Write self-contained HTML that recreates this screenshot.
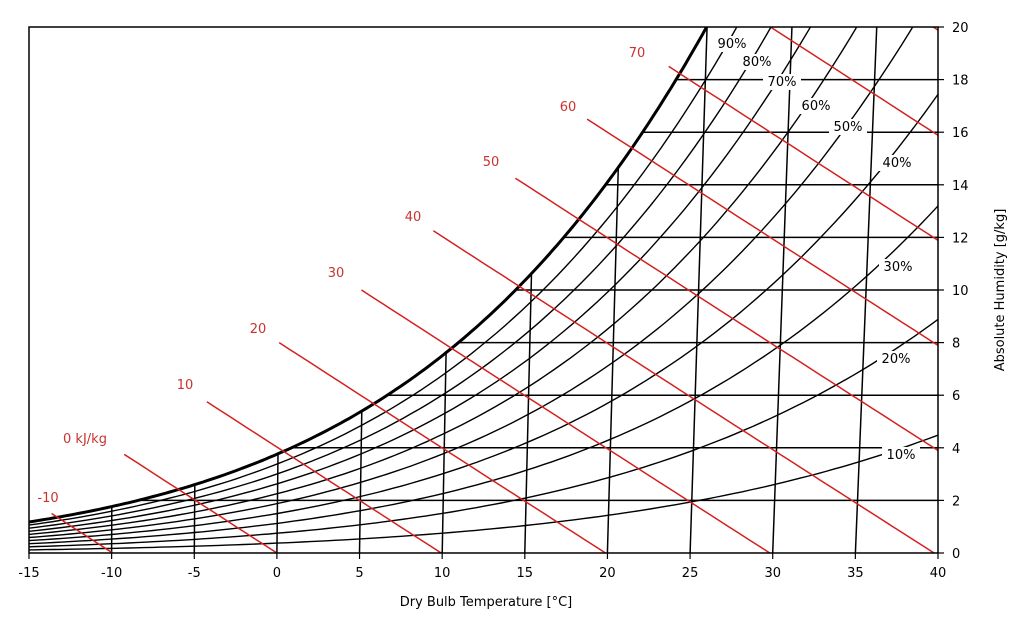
<!DOCTYPE html>
<html><head><meta charset="utf-8"><style>
html,body{margin:0;padding:0;background:#fff;}
svg{display:block;font-family:"DejaVu Sans","Liberation Sans",sans-serif;}
</style></head><body>
<svg id="s" width="1024" height="620" viewBox="0 0 1024 620" xmlns="http://www.w3.org/2000/svg">
<defs><clipPath id="c"><rect x="29" y="27" width="909" height="526"/></clipPath></defs>
<rect width="1024" height="620" fill="#fff"/>
<g id="plot" clip-path="url(#c)"></g>
<g id="lab"></g>
<rect x="29" y="27" width="909" height="526" fill="none" stroke="#000" stroke-width="1.5"/>
<g id="ax" font-size="13" fill="#000"></g>
<text x="486" y="606" font-size="13" text-anchor="middle">Dry Bulb Temperature [°C]</text>
<text transform="translate(1004,290) rotate(-90)" font-size="13" text-anchor="middle">Absolute Humidity [g/kg]</text>
</svg>
<script>
const NS="http://www.w3.org/2000/svg";
const P=101.325;
function X(T){return 29+(T+15)*16.527;}
function Y(w){return 553-w*26.3;}
function px(T,w){return X(T)+w*(0.3+0.022*T);}
function ps(T){return 0.61094*Math.exp(17.625*T/(T+243.04));}
function wr(T,f){const p=f*ps(T);return 622*p/(P-p);}
function el(p,tag,a,txt){const e=document.createElementNS(NS,tag);for(const k in a)e.setAttribute(k,a[k]);if(txt!==undefined)e.textContent=txt;p.appendChild(e);return e;}
const g=document.getElementById('plot'),lab=document.getElementById('lab'),ax=document.getElementById('ax');
function path(pts,st,sw){el(g,'path',{d:'M'+pts.map(p=>p[0].toFixed(1)+','+p[1].toFixed(1)).join('L'),fill:'none',stroke:st,'stroke-width':sw});}
function tsat(w){let lo=-30,hi=60;for(let i=0;i<60;i++){const m=(lo+hi)/2;if(wr(m,1)>w)hi=m;else lo=m;}return lo;}
for(let w=2;w<=18;w+=2){const T=tsat(w);path([[px(T,w),Y(w)],[940,Y(w)]],'#000',1.5);}
for(let T=-10;T<=35;T+=5){const w=Math.min(wr(T,1),21);path([[px(T,0),Y(0)],[px(T,w),Y(w)]],'#000',1.5);}
for(let f=0.1;f<0.95;f+=0.1){const pts=[];for(let T=-15;T<=41;T+=0.5){const w=wr(T,f);pts.push([px(T,w),Y(w)]);if(w>21)break;}path(pts,'#000',1.4);}
{const pts=[];for(let T=-15;T<=27;T+=0.25){const w=wr(T,1);pts.push([px(T,w),Y(w)]);if(w>21)break;}path(pts,'#000',3);}
for(let k=0;k<11;k++){const h=-10+10*k;const wend=k<9?1.6+2.14*k:22;const pts=[];for(let w=0;w<=wend+0.01;w+=0.25){const T=(h-2.501*w)/(1.006+0.00186*w);pts.push([px(T,w),Y(w)]);}path(pts,'#d42020',1.5);}
const rl=[['90%',732,48],['80%',757,66],['70%',782,86],['60%',816,110],['50%',848,131],['40%',897,167],['30%',898,271],['20%',896,363],['10%',901,459]];
rl.forEach(r=>{el(lab,'rect',{x:r[1]-19,y:r[2]-12,width:38,height:16,fill:'#fff'});el(lab,'text',{x:r[1],y:r[2],'font-size':13,'text-anchor':'middle'},r[0]);});
const hl=[['-10',48,502],['0 kJ/kg',85,443],['10',185,389],['20',258,333],['30',336,277],['40',413,221],['50',491,166],['60',568,111],['70',637,57]];
hl.forEach(r=>el(lab,'text',{x:r[1],y:r[2],'font-size':13,'text-anchor':'middle',fill:'#c8332f'},r[0]));
for(let T=-15;T<=40;T+=5){el(ax,'line',{x1:X(T),y1:553,x2:X(T),y2:559,stroke:'#000','stroke-width':1.2});el(ax,'text',{x:X(T),y:577,'text-anchor':'middle'},T);}
for(let w=0;w<=20;w+=2){el(ax,'line',{x1:938,y1:Y(w),x2:944,y2:Y(w),stroke:'#000','stroke-width':1.2});el(ax,'text',{x:952,y:Y(w)+5},w);}
</script>
</body></html>
